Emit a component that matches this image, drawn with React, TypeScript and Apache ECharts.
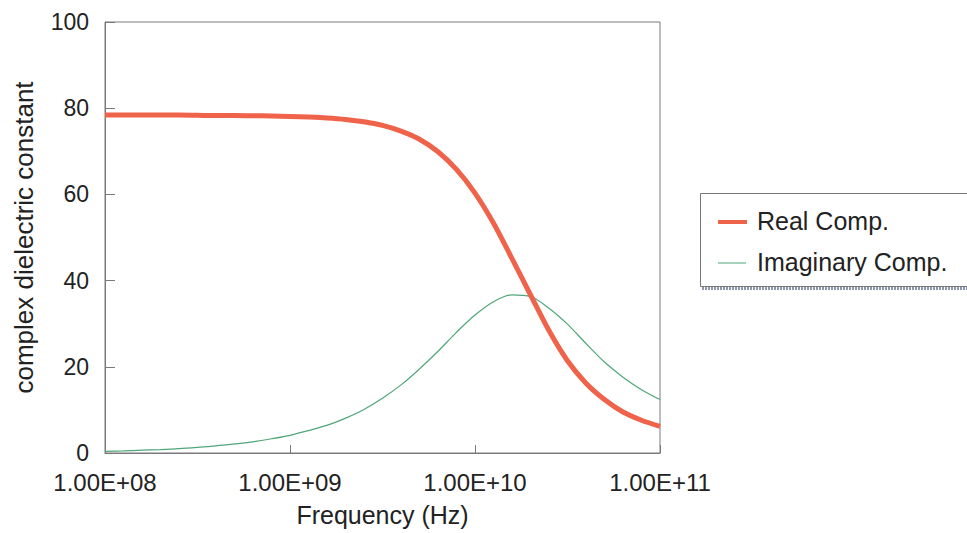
import React, { useEffect, useRef } from "react";
import * as echarts from "echarts";

// Frequency (Hz), 0.1-decade steps
const frequencies: number[] = [
  1.0e8, 1.26e8, 1.58e8, 2.0e8, 2.51e8, 3.16e8, 3.98e8, 5.01e8, 6.31e8, 7.94e8,
  1.0e9, 1.26e9, 1.58e9, 2.0e9, 2.51e9, 3.16e9, 3.98e9, 5.01e9, 6.31e9, 7.94e9,
  1.0e10, 1.26e10, 1.58e10, 2.0e10, 2.51e10, 3.16e10, 3.98e10, 5.01e10, 6.31e10, 7.94e10,
  1.0e11,
];

const realComp: number[] = [
  78.4, 78.4, 78.4, 78.4, 78.4, 78.35, 78.3, 78.3, 78.25, 78.2,
  78.1, 77.95, 77.75, 77.4, 76.85, 76.0, 74.7, 72.8, 69.9, 65.8,
  60.3, 53.3, 45.2, 36.6, 28.4, 21.4, 16.2, 12.4, 9.5, 7.6,
  6.2,
];

const imagComp: number[] = [
  0.4, 0.5, 0.65, 0.8, 1.0, 1.3, 1.65, 2.1, 2.6, 3.3,
  4.1, 5.2, 6.4, 8.1, 10.1, 12.7, 15.8, 19.5, 23.6, 28.0,
  32.0, 35.1, 36.7, 36.3, 33.6, 29.9, 25.4, 21.1, 17.6, 14.7,
  12.4,
];

const seriesNames: string[] = ["Real Comp.", "Imaginary Comp."];
const yTicks: number[] = [0, 20, 40, 60, 80, 100];

const FONT = "'Liberation Sans', Arial, sans-serif";
const RED = "#ef634a";
const GREEN = "#4fa679";
const AXIS = "#7a7a7a";

export default function App() {
  const ref = useRef<HTMLDivElement>(null);

  useEffect(() => {
    document.body.style.margin = "0";
    if (!ref.current) return;
    const chart = echarts.init(ref.current, undefined, { renderer: "svg" });
    const realData = frequencies.map((f, i) => [f, realComp[i]]);
    const imagData = frequencies.map((f, i) => [f, imagComp[i]]);

    chart.setOption({
      animation: false,
      backgroundColor: "#ffffff",
      textStyle: { fontFamily: FONT },
      grid: {
        left: 105,
        right: 307,
        top: 22,
        bottom: 80,
        show: true,
        borderColor: AXIS,
        borderWidth: 1,
        backgroundColor: "transparent",
      },
      xAxis: {
        type: "log",
        logBase: 10,
        min: 1e8,
        max: 1e11,
        name: "Frequency (Hz)",
        nameLocation: "middle",
        nameGap: 49,
        nameTextStyle: { fontSize: 25, color: "#222", fontFamily: FONT },
        axisLine: { show: true, lineStyle: { color: AXIS, width: 1 } },
        axisTick: { show: true, inside: true, length: 8, lineStyle: { color: AXIS } },
        minorTick: { show: false },
        splitLine: { show: false },
        axisLabel: {
          fontSize: 24,
          color: "#222",
          fontFamily: FONT,
          margin: 17,
          formatter: (v: number) => {
            const e = Math.round(Math.log10(v));
            return "1.00E+" + String(e).padStart(2, "0");
          },
        },
      },
      yAxis: {
        type: "value",
        min: yTicks[0],
        max: yTicks[yTicks.length - 1],
        interval: 20,
        name: "complex dielectric constant",
        nameLocation: "middle",
        nameGap: 68,
        nameTextStyle: { fontSize: 26, color: "#222", fontFamily: FONT },
        axisLine: { show: true, lineStyle: { color: AXIS, width: 1 } },
        axisTick: { show: true, inside: true, length: 10, lineStyle: { color: AXIS } },
        splitLine: { show: false },
        axisLabel: { fontSize: 23, color: "#222", fontFamily: FONT, margin: 16 },
      },
      series: [
        {
          name: seriesNames[0],
          type: "line",
          data: realData,
          showSymbol: false,
          smooth: 0.3,
          lineStyle: { color: RED, width: 5 },
          itemStyle: { color: RED },
          z: 3,
        },
        {
          name: seriesNames[1],
          type: "line",
          data: imagData,
          showSymbol: false,
          smooth: 0.3,
          lineStyle: { color: GREEN, width: 1.2 },
          itemStyle: { color: GREEN },
          z: 2,
        },
      ],
      graphic: [
        {
          type: "line",
          shape: { x1: 702, y1: 288.5, x2: 967, y2: 288.5 },
          style: { stroke: "#8e97ab", lineWidth: 3, lineDash: [2, 1] },
          silent: true,
        },
        {
          type: "rect",
          shape: { x: 700.5, y: 193.5, width: 280, height: 93 },
          style: { fill: "#ffffff", stroke: "#777777", lineWidth: 1 },
          silent: true,
        },
        {
          type: "line",
          shape: { x1: 718, y1: 222, x2: 747, y2: 222 },
          style: { stroke: RED, lineWidth: 4 },
          silent: true,
        },
        {
          type: "text",
          x: 757,
          y: 221,
          style: {
            text: seriesNames[0],
            fontSize: 25,
            fontFamily: FONT,
            fill: "#222",
            textVerticalAlign: "middle",
            verticalAlign: "middle",
          },
          silent: true,
        },
        {
          type: "line",
          shape: { x1: 718, y1: 263, x2: 746, y2: 263 },
          style: { stroke: GREEN, lineWidth: 1 },
          silent: true,
        },
        {
          type: "text",
          x: 757,
          y: 262,
          style: {
            text: seriesNames[1],
            fontSize: 25,
            fontFamily: FONT,
            fill: "#222",
            textVerticalAlign: "middle",
            verticalAlign: "middle",
          },
          silent: true,
        },
      ],
    });

    return () => {
      chart.dispose();
    };
  }, []);

  return <div ref={ref} style={{ width: 967, height: 533 }} />;
}
